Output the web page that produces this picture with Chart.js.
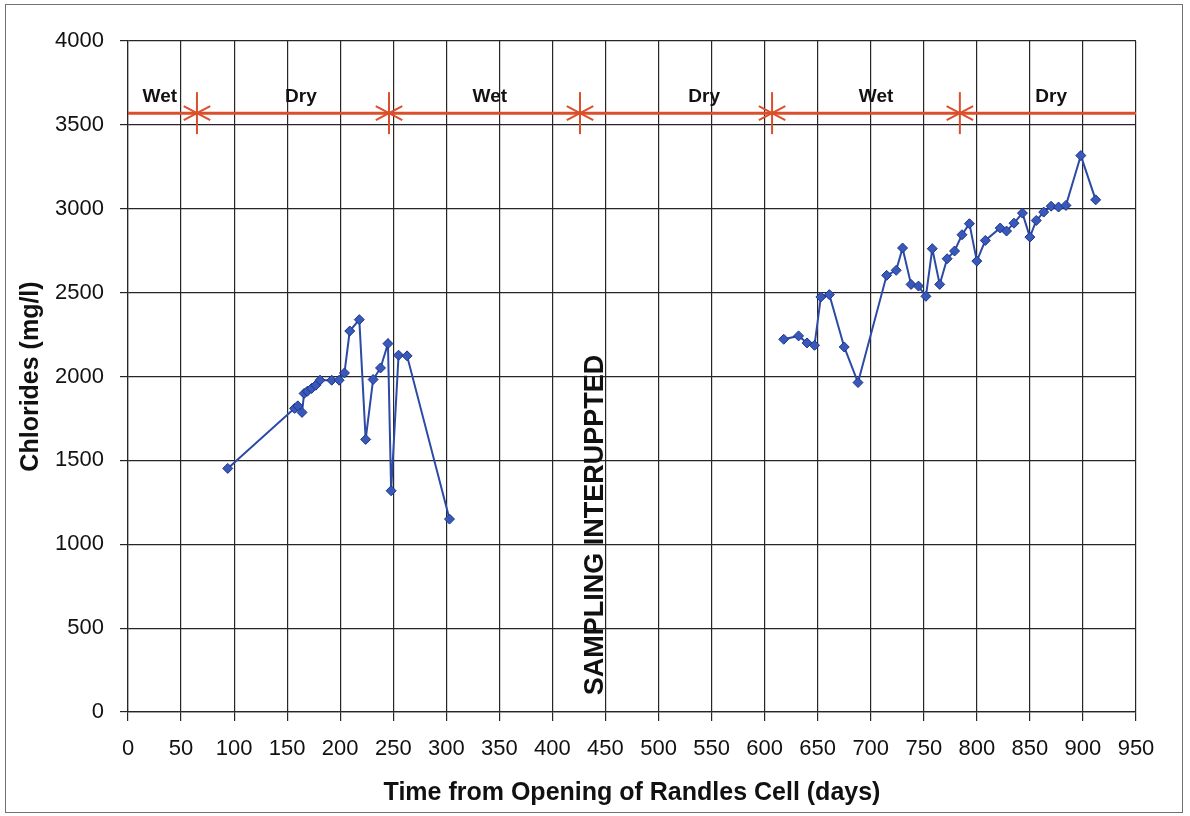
<!DOCTYPE html>
<html>
<head>
<meta charset="utf-8">
<script src="https://cdn.jsdelivr.net/npm/chart.js@4.4.1/dist/chart.umd.min.js"></script>
<style>
  html, body { margin: 0; padding: 0; background: #fff; }
  #wrap { position: relative; width: 1190px; height: 816px; }
  #frame { position: absolute; left: 5px; top: 4px; width: 1176px; height: 807px; border: 1px solid #707070; pointer-events: none; }
  canvas { position: absolute; left: 0; top: 0; }
</style>
</head>
<body>
<div id="wrap">
  <canvas id="chloridesChart" width="1190" height="816"></canvas>
  <div id="frame"></div>
</div>
<script>
// ---- data ----
// before the sampling break
const daysBefore = [94, 157, 160, 164, 166, 169, 173, 177, 181, 192, 199, 204, 209, 218, 224, 231, 238, 245, 248, 255, 263, 303];
const chlorBefore = [1452, 1810, 1825, 1786, 1899, 1912, 1929, 1948, 1978, 1978, 1978, 2021, 2271, 2339, 1625, 1982, 2051, 2196, 1319, 2127, 2123, 1150];
// after sampling resumed
const daysAfter = [618, 632, 640, 647, 653, 661, 675, 688, 715, 724, 730, 738, 745, 752, 758, 765, 772, 779, 786, 793, 800, 808, 822, 828, 835, 843, 850, 856, 863, 870, 877, 884, 898, 912];
const chlorAfter = [2222, 2242, 2200, 2186, 2474, 2488, 2176, 1964, 2603, 2633, 2766, 2549, 2539, 2478, 2762, 2549, 2702, 2748, 2845, 2911, 2688, 2811, 2885, 2867, 2914, 2974, 2831, 2930, 2980, 3015, 3010, 3020, 3317, 3053];

// wet / dry seasons (red bar on top)
const seasonLevel = 3570;
const seasonBoundaries = [65, 246, 426, 607, 784];
const seasonNames = ['Wet', 'Dry', 'Wet', 'Dry', 'Wet', 'Dry'];
const seasonNameDays = [30, 163, 341, 543, 705, 870];

const gapNote = 'SAMPLING INTERUPPTED';
const gapNoteDay = 441;
const gapNoteLevel = 1115;

const xMin = 0, xMax = 950, xStep = 50;
const yMin = 0, yMax = 4000, yStep = 500;

const FONT = '"Liberation Sans", Arial, sans-serif';
const BLUE = '#2c4aa6';
const RED = '#db4f2c';
const GRID = '#262626';

const toPoints = (xs, ys) => xs.map((d, i) => ({ x: d, y: ys[i] }));
const boundaryPts = seasonBoundaries.map(d => ({ x: d, y: seasonLevel }));

// texts placed in data coordinates
const notesPlugin = {
  id: 'notes',
  afterDatasetsDraw(chart) {
    const { ctx, scales: { x, y } } = chart;
    ctx.save();
    ctx.fillStyle = '#111';
    ctx.textAlign = 'center';
    ctx.textBaseline = 'middle';
    ctx.font = 'bold 19px ' + FONT;
    const ly = y.getPixelForValue(seasonLevel) - 16;
    seasonNames.forEach((s, i) => {
      ctx.fillText(s, x.getPixelForValue(seasonNameDays[i]), ly);
    });
    ctx.translate(x.getPixelForValue(gapNoteDay), y.getPixelForValue(gapNoteLevel));
    ctx.rotate(-Math.PI / 2);
    ctx.font = 'bold 27px ' + FONT;
    ctx.fillText(gapNote, 0, 0);
    ctx.restore();
  }
};

const blueSeries = (pts) => ({
  data: pts,
  showLine: true,
  borderColor: BLUE,
  borderWidth: 2,
  pointStyle: 'rectRot',
  pointRadius: 5,
  pointBackgroundColor: '#3858bb',
  pointBorderColor: '#1d3587',
  pointBorderWidth: 1,
  tension: 0,
  order: 1
});

const starArm = (rot, r) => ({
  data: boundaryPts,
  showLine: false,
  pointStyle: 'line',
  rotation: rot,
  pointRadius: r,
  borderColor: RED,
  pointBorderColor: RED,
  pointBorderWidth: 2,
  order: 2
});

new Chart(document.getElementById('chloridesChart'), {
  type: 'scatter',
  data: {
    datasets: [
      blueSeries(toPoints(daysBefore, chlorBefore)),
      blueSeries(toPoints(daysAfter, chlorAfter)),
      {
        data: [{ x: xMin, y: seasonLevel }, { x: xMax, y: seasonLevel }],
        showLine: true,
        borderColor: RED,
        borderWidth: 3,
        pointRadius: 0,
        order: 3
      },
      starArm(90, 21),
      starArm(28, 15),
      starArm(-28, 15)
    ]
  },
  options: {
    responsive: false,
    devicePixelRatio: 1,
    animation: false,
    layout: { padding: { top: 41, right: 54, left: 0, bottom: 0 } },
    plugins: {
      legend: { display: false },
      tooltip: { enabled: false }
    },
    scales: {
      x: {
        type: 'linear',
        min: xMin,
        max: xMax,
        ticks: { stepSize: xStep, color: '#111', font: { size: 22, family: FONT }, padding: 15, maxRotation: 0, autoSkip: false, callback: v => String(v) },
        grid: { color: GRID, lineWidth: 1.2, tickLength: 9 },
        border: { color: GRID, width: 1.2 },
        title: { display: true, text: 'Time from Opening of Randles Cell (days)', color: '#111', font: { size: 25, weight: 'bold', family: FONT }, padding: { top: 0, bottom: 8 } },
        afterFit(s) { s.height = 104; }
      },
      y: {
        min: yMin,
        max: yMax,
        ticks: { stepSize: yStep, color: '#111', font: { size: 22, family: FONT }, padding: 16, callback: v => String(v) },
        grid: { color: GRID, lineWidth: 1.2, tickLength: 8 },
        border: { color: GRID, width: 1.2 },
        title: { display: true, text: 'Chlorides (mg/l)', color: '#111', font: { size: 25, weight: 'bold', family: FONT }, padding: { top: 16, bottom: 0 } },
        afterFit(s) { s.width = 128; }
      }
    }
  },
  plugins: [notesPlugin]
});
</script>
</body>
</html>
